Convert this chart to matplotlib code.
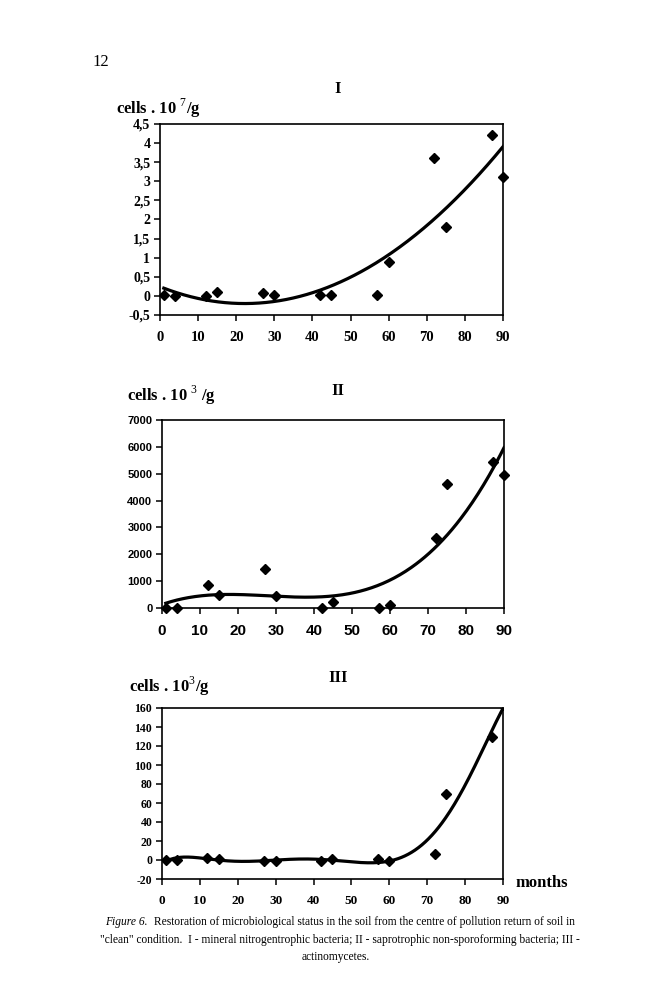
import numpy as np
import matplotlib.pyplot as plt
from matplotlib import ticker

plt.rcParams['font.family'] = ['Liberation Serif', 'DejaVu Serif']
plt.rcParams['mathtext.fontset'] = 'custom'
plt.rcParams['mathtext.rm'] = 'Liberation Serif'
plt.rcParams['mathtext.bf'] = 'Liberation Serif:bold'

# === data (months since contamination) ===
months = [1, 4, 12, 15, 27, 30, 42, 45, 57, 60, 72, 75, 87, 90]

# I - mineral nitrogentrophic bacteria, cells . 10^7/g
nitro = [0.02, 0.0, 0.0, 0.1, 0.07, 0.02, 0.02, 0.02, 0.02, 0.88, 3.6, 1.8, 4.2, 3.1]
# II - saprotrophic non-sporoforming bacteria, cells . 10^3/g
sapro = [0, 0, 870, 480, 1450, 450, 10, 210, 0, 100, 2600, 4620, 5450, 4970]
# III - actinomycetes, cells . 10^3/g (last point is off the top of the plot)
actino = [0, 0, 2, 1, -1, -1, -1, 1, 1, -1, 6, 69, 129, 163]

fig = plt.figure(figsize=(6.68, 10), dpi=100)


def panel(rect, y, order, ylim, ystep, yfmt, tick_font, xsize, ysize, clip):
    ax = fig.add_axes(rect)
    xs = np.linspace(months[0], months[-1], 300)
    coef = np.polyfit(months, y, order)
    ax.plot(xs, np.polyval(coef, xs), color='black', lw=2.3, zorder=2)
    ax.plot(months, y, 'D', color='black', ms=5, clip_on=clip, zorder=3)
    ax.set_xlim(0, 90)
    ax.set_ylim(*ylim)
    ax.set_xticks(range(0, 91, 10))
    ax.set_yticks(np.arange(ylim[0], ylim[1] + ystep / 2, ystep))
    ax.yaxis.set_major_formatter(ticker.FuncFormatter(yfmt))
    ax.tick_params(direction='out', length=4, width=1.1, color='black', pad=3)
    for s in ax.spines.values():
        s.set_linewidth(1.2)
        s.set_color('black')
    for lab in ax.get_xticklabels():
        lab.set_fontfamily(tick_font)
        lab.set_fontweight('bold')
        lab.set_fontsize(xsize)
    for lab in ax.get_yticklabels():
        lab.set_fontfamily(tick_font)
        lab.set_fontweight('bold')
        lab.set_fontsize(ysize)
    return ax


comma = lambda v, p: ('%g' % round(v, 2)).replace('.', ',')
plain = lambda v, p: '%d' % round(v)

ax1 = panel([0.2395, 0.685, 0.5135, 0.191], nitro, 2, (-0.5, 4.5), 0.5, comma,
            'Liberation Serif', 10.5, 10, False)
ax2 = panel([0.2425, 0.392, 0.512, 0.188], sapro, 3, (0, 7000), 1000, plain,
            'Liberation Sans', 11, 8, False)
ax3 = panel([0.2425, 0.121, 0.5105, 0.171], actino, 6, (-20, 160), 20, plain,
            'Liberation Serif', 9.5, 8.5, True)
for ax in (ax1, ax2, ax3):
    for lab in ax.get_xticklabels():
        lab.set_y(-0.035)

# titles, units and page texts
fig.text(92 / 668, 1 - 62 / 1000, '12', fontsize=12, va='center')
fig.text(338 / 668, 1 - 89 / 1000, 'I', fontsize=12, fontweight='bold', ha='center', va='center')
fig.text(338 / 668, 1 - 391 / 1000, 'II', fontsize=12, fontweight='bold', ha='center', va='center')
fig.text(338 / 668, 1 - 678 / 1000, 'III', fontsize=12, fontweight='bold', ha='center', va='center')
fig.text(116 / 668, 1 - 108 / 1000, r'cells . 10 $^{\mathrm{7}}$/g', fontsize=12,
         fontweight='bold', va='center')
fig.text(127 / 668, 1 - 395 / 1000, r'cells . 10 $^{\mathrm{3}}$ /g', fontsize=12,
         fontweight='bold', va='center')
fig.text(129 / 668, 1 - 686 / 1000, r'cells . 10$^{\mathrm{3}}$/g', fontsize=12,
         fontweight='bold', va='center')
fig.text(515 / 668, 1 - 883 / 1000, 'months', fontsize=12, fontweight='bold', va='center')

cap_size = 8.3
line1 = 'Restoration of microbiological status in the soil from the centre of pollution return of soil in'
line2 = '"clean" condition.  I - mineral nitrogentrophic bacteria; II - saprotrophic non-sporoforming bacteria; III -'
line3 = 'actinomycetes.'
t0 = fig.text(105 / 668, 1 - 925 / 1000, 'Figure 6.', style='italic',
              fontsize=cap_size, va='baseline')
fig.canvas.draw()
bb = t0.get_window_extent()
fig.text((bb.x1 + 6) / 668, 1 - 925 / 1000, line1, fontsize=cap_size, va='baseline')
fig.text(340 / 668, 1 - 943 / 1000, line2, fontsize=cap_size, ha='center', va='baseline')
fig.text(336 / 668, 1 - 960 / 1000, line3, fontsize=cap_size, ha='center', va='baseline')

fig.savefig('out.png', dpi=100)
